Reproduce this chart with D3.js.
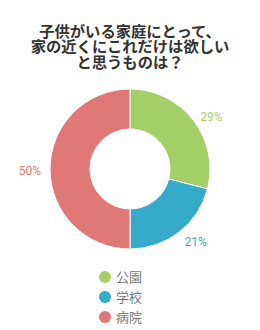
<!DOCTYPE html>
<html>
<head>
<meta charset="utf-8">
<script src="https://cdn.jsdelivr.net/npm/d3@7"></script>
<style>
  body { margin: 0; background: #fff; }
  svg { display: block; font-family: "Noto Sans CJK JP", "Noto Sans", sans-serif; }
</style>
</head>
<body>
<div id="chart"></div>
<script>
var title_lines = ['子供がいる家庭にとって、', '家の近くにこれだけは欲しい', 'と思うものは？'];
var categories = ['公園', '学校', '病院'];
var values = [29, 21, 50];
var color_set = ['#a3cf67', '#35aac9', '#df7877'];

var W = 260, H = 330;
var cx = 130, cy = 169, outerR = 80, innerR = 40;

var svg = d3.select('#chart').append('svg')
            .attr('width', W)
            .attr('height', H);

// title: one text block, three centred lines
var title = svg.append('text')
   .attr('text-anchor', 'middle')
   .style('font-size', '15.3px')
   .style('font-weight', 'bold')
   .style('fill', '#333');
title.selectAll('tspan').data(title_lines)
   .enter().append('tspan')
   .attr('x', W / 2)
   .attr('y', (d, i) => 36.5 + i * 15.5)
   .text(d => d);

var pie = d3.pie().sort(null).value(d => d);
var arc = d3.arc().innerRadius(innerR).outerRadius(outerR);
var arcs = pie(values);

var g = svg.append('g').attr('transform', `translate(${cx},${cy})`);

g.selectAll('path').data(arcs)
 .enter().append('path')
 .attr('d', arc)
 .attr('fill', (d, i) => color_set[i])
 .attr('stroke', '#fff')
 .attr('stroke-width', 1);

// percentage labels outside, anchored on the near side
var labelArc = d3.arc().innerRadius(outerR + 9).outerRadius(outerR + 9);
g.selectAll('text.pct').data(arcs)
 .enter().append('text')
 .attr('class', 'pct')
 .attr('transform', d => {
   var c = labelArc.centroid(d);
   return `translate(${c[0]},${c[1] + 2})`;
 })
 .attr('text-anchor', d => ((d.startAngle + d.endAngle) / 2 < Math.PI ? 'start' : 'end'))
 .attr('dy', '0.35em')
 .style('font-size', '12px')
 .style('font-family', 'Roboto, "Open Sans", sans-serif')
 .style('fill', (d, i) => color_set[i])
 .text(d => d.data + '%');

// legend
var legend = svg.append('g').attr('transform', 'translate(105,277)');
var item = legend.selectAll('g').data(categories)
                 .enter().append('g')
                 .attr('transform', (d, i) => `translate(0,${i * 20})`);
item.append('circle').attr('r', 6).attr('fill', (d, i) => color_set[i]);
item.append('text')
    .attr('x', 11)
    .attr('dy', '0.35em')
    .style('font-size', '13px')
    .style('fill', '#777')
    .text(d => d);
</script>
</body>
</html>
